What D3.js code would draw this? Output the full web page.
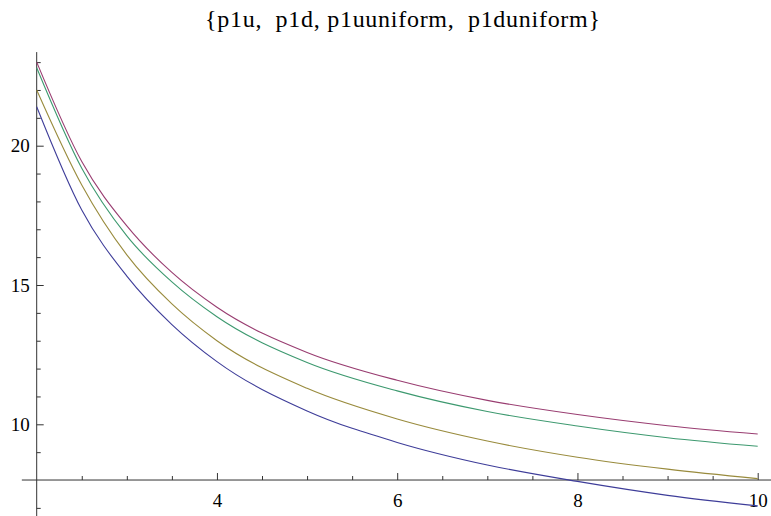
<!DOCTYPE html>
<html>
<head>
<meta charset="utf-8">
<script src="https://cdn.jsdelivr.net/npm/d3@7"></script>
<style>
  html, body { margin: 0; padding: 0; background: #fff; }
  svg { display: block; }
  svg text { font-family: "Liberation Serif", "Times New Roman", Times, "DejaVu Serif", serif; fill: #000; }
</style>
</head>
<body>
<svg id="chart" width="771" height="516"></svg>
<script>
// sample points of each curve
const xs = [2, 2.5, 3, 3.5, 4, 5, 6, 7, 8, 9, 10];
const p1u        = [21.4, 17.69, 15.32, 13.58, 12.25, 10.48, 9.35, 8.54, 7.95, 7.45, 7.07];
const p1d        = [23.0, 19.43, 17.12, 15.45, 14.2, 12.58, 11.58, 10.86, 10.35, 9.95, 9.65];
const p1uuniform = [22.0, 18.59, 16.08, 14.32, 13.0, 11.29, 10.19, 9.40, 8.82, 8.39, 8.05];
const p1duniform = [22.8, 19.19, 16.76, 15.11, 13.86, 12.22, 11.2, 10.46, 9.94, 9.52, 9.21];

const seriesNames = ["p1u", "p1d", "p1uuniform", "p1duniform"];
const seriesValues = [p1u, p1d, p1uuniform, p1duniform];
const seriesColors = ["#3e3d99", "#993d71", "#998b3d", "#3d996f"];

const xMajorTicks = [4, 6, 8, 10];
const xMinorTicks = [2.5, 3, 3.5, 4.5, 5, 5.5, 6.5, 7, 7.5, 8.5, 9, 9.5];
const yMajorTicks = [10, 15, 20];
const yMinorTicks = [7, 9, 11, 12, 13, 14, 16, 17, 18, 19, 21, 22, 23];

const titleText = "{p1u,  p1d, p1uuniform,  p1duniform}";

const svg = d3.select("#chart");
const serif = "'Liberation Serif', 'Times New Roman', Times, 'DejaVu Serif', serif";

const x = d3.scaleLinear().domain([2, 10]).range([36.7, 757.7]);
const y = d3.scaleLinear().domain([10, 20]).range([424.3, 145.7]);

const axisColor = "#333";
const xOrigin = 2, yOrigin = 8;

// title
svg.append("text")
  .attr("x", 402.5).attr("y", 27)
  .attr("text-anchor", "middle")
  .attr("font-size", 24)
  .attr("font-family", serif)
  .attr("textLength", 395)
  .attr("lengthAdjust", "spacing")
  .style("white-space", "pre")
  .attr("xml:space", "preserve")
  .text(titleText);

// x axis
const gx = svg.append("g").attr("transform", `translate(0,${y(yOrigin)})`);
gx.append("line")
  .attr("x1", x(1.835)).attr("x2", 771)
  .attr("stroke", axisColor).attr("stroke-width", 1);
gx.append("g")
  .call(d3.axisBottom(x).tickValues(xMajorTicks).tickSizeInner(-7).tickSizeOuter(0).tickPadding(13).tickFormat(d3.format("d")))
  .call(g => g.select(".domain").remove())
  .attr("font-family", serif).attr("font-size", 19)
  .call(g => g.selectAll("line").attr("stroke", axisColor))
  .call(g => g.selectAll("text").attr("fill", "#000"));
gx.append("g")
  .call(d3.axisBottom(x).tickValues(xMinorTicks).tickSizeInner(-4).tickSizeOuter(0).tickFormat(""))
  .call(g => g.select(".domain").remove())
  .call(g => g.selectAll("line").attr("stroke", axisColor));

// y axis
const gy = svg.append("g").attr("transform", `translate(${x(xOrigin)},0)`);
gy.append("line")
  .attr("y1", y(23.36)).attr("y2", 516)
  .attr("stroke", axisColor).attr("stroke-width", 1);
gy.append("g")
  .call(d3.axisLeft(y).tickValues(yMajorTicks).tickSizeInner(-7).tickSizeOuter(0).tickPadding(7).tickFormat(d3.format("d")))
  .call(g => g.select(".domain").remove())
  .attr("font-family", serif).attr("font-size", 19)
  .call(g => g.selectAll("line").attr("stroke", axisColor))
  .call(g => g.selectAll("text").attr("fill", "#000"));
gy.append("g")
  .call(d3.axisLeft(y).tickValues(yMinorTicks).tickSizeInner(-4).tickSizeOuter(0).tickFormat(""))
  .call(g => g.select(".domain").remove())
  .call(g => g.selectAll("line").attr("stroke", axisColor));

// curves
const line = d3.line()
  .x((d, i) => x(xs[i]))
  .y(d => y(d))
  .curve(d3.curveMonotoneX);

svg.append("g")
  .selectAll("path")
  .data(seriesValues)
  .join("path")
  .attr("class", (d, i) => seriesNames[i])
  .attr("fill", "none")
  .attr("stroke", (d, i) => seriesColors[i])
  .attr("stroke-width", 1.1)
  .attr("d", line);
</script>
</body>
</html>
